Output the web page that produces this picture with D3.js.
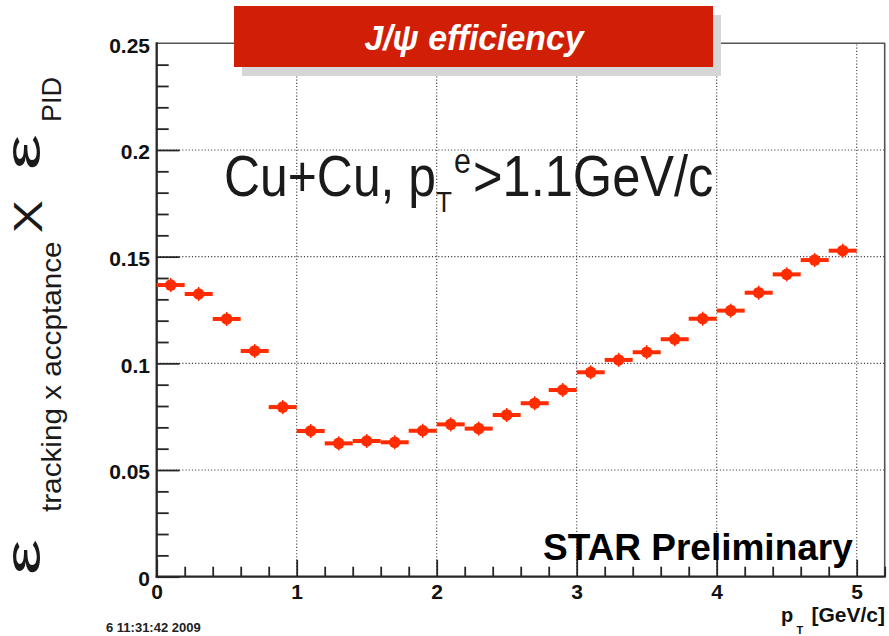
<!DOCTYPE html>
<html>
<head>
<meta charset="utf-8">
<script src="https://cdn.jsdelivr.net/npm/d3@7"></script>
<style>
  html, body { margin: 0; padding: 0; background: #fff; }
  svg { display: block; }
  text { font-family: "Liberation Sans", Arial, Helvetica, sans-serif; }
</style>
</head>
<body>
<svg id="chart" width="889" height="636"></svg>
<script>
// J/psi efficiency vs pT, Cu+Cu
const pT = [0.1, 0.3, 0.5, 0.7, 0.9, 1.1, 1.3, 1.5, 1.7, 1.9, 2.1, 2.3, 2.5,
            2.7, 2.9, 3.1, 3.3, 3.5, 3.7, 3.9, 4.1, 4.3, 4.5, 4.7, 4.9];
const eff = [0.1367, 0.1325, 0.1208, 0.1058, 0.0795, 0.0683, 0.0625, 0.0636,
             0.0630, 0.0684, 0.0714, 0.0694, 0.0758, 0.0813, 0.0875, 0.0958,
             0.1016, 0.1052, 0.1113, 0.1209, 0.1247, 0.1331, 0.1417, 0.1484, 0.1528];
const effErr = [0.0033, 0.0033, 0.0033, 0.0033, 0.0033, 0.0033, 0.0033, 0.0033,
                0.0033, 0.0033, 0.0033, 0.0033, 0.0033, 0.0033, 0.0033, 0.0033,
                0.0033, 0.0033, 0.0033, 0.0033, 0.0033, 0.0033, 0.0033, 0.0033, 0.0033];
const binHalfWidth = 0.1;
const xTickLabels = ["0", "1", "2", "3", "4", "5"];
const yTickLabels = ["0", "0.05", "0.1", "0.15", "0.2", "0.25"];
const xMajor = [0, 1, 2, 3, 4, 5];
const yMajor = [0, 0.05, 0.1, 0.15, 0.2, 0.25];
const xGrid = [1, 2, 3, 4, 5];
const yGrid = [0.05, 0.1, 0.15, 0.2];

const svg = d3.select("#chart");
const padL = 156.7, padR = 884.7, padT = 43.3, padB = 576.7;
const x = d3.scaleLinear().domain([0, 5.2]).range([padL, padR]);
const y = d3.scaleLinear().domain([0, 0.25]).range([padB, padT]);

const red = "#ff2c00";
const axisColor = "#262626";

// dotted grid
const grid = svg.append("g").attr("stroke", "#3a3a3a").attr("stroke-width", 1.1)
  .attr("stroke-dasharray", "1.1,2.1");
grid.selectAll("line.gx").data(xGrid).join("line").attr("class", "gx")
  .attr("x1", d => x(d)).attr("x2", d => x(d)).attr("y1", padB).attr("y2", padT);
grid.selectAll("line.gy").data(yGrid).join("line").attr("class", "gy")
  .attr("x1", padL).attr("x2", padR).attr("y1", d => y(d)).attr("y2", d => y(d));

// frame top and right
svg.append("line").attr("x1", padL).attr("x2", padR + 0.5).attr("y1", padT).attr("y2", padT)
  .attr("stroke", "#555").attr("stroke-width", 1.6);
svg.append("line").attr("x1", padR).attr("x2", padR).attr("y1", padT).attr("y2", padB)
  .attr("stroke", "#555").attr("stroke-width", 1.6);

// x axis: ticks pointing inward
const xMinor = d3.range(0, 5.2001, 0.2).filter(v => Math.abs(v - Math.round(v)) > 1e-6);
const xMinorAxis = d3.axisBottom(x).tickValues(xMinor).tickSize(-10).tickFormat("");
const xMajorAxis = d3.axisBottom(x).tickValues(xMajor).tickSize(-17).tickPadding(7)
  .tickFormat((d, i) => xTickLabels[i]);
const gxMinor = svg.append("g").attr("transform", `translate(0,${padB})`).call(xMinorAxis);
const gx = svg.append("g").attr("transform", `translate(0,${padB})`).call(xMajorAxis);
[gxMinor, gx].forEach(g => {
  g.select(".domain").remove();
  g.selectAll(".tick line").attr("stroke", axisColor).attr("stroke-width", 1.8);
});
gx.selectAll(".tick text").attr("fill", "#111").attr("font-size", 21)
  .attr("font-weight", "bold").style("font-family", "'Liberation Sans', Arial, sans-serif");

// y axis
const yMinor = d3.range(0, 0.2501, 0.01).filter(v => Math.abs(v / 0.05 - Math.round(v / 0.05)) > 1e-6);
const yMinorAxis = d3.axisLeft(y).tickValues(yMinor).tickSize(-12).tickFormat("");
const yMajorAxis = d3.axisLeft(y).tickValues(yMajor).tickSize(-23).tickPadding(6.7)
  .tickFormat((d, i) => yTickLabels[i]);
const gyMinor = svg.append("g").attr("transform", `translate(${padL},0)`).call(yMinorAxis);
const gy = svg.append("g").attr("transform", `translate(${padL},0)`).call(yMajorAxis);
[gyMinor, gy].forEach(g => {
  g.select(".domain").remove();
  g.selectAll(".tick line").attr("stroke", axisColor).attr("stroke-width", 1.8);
});
gy.selectAll(".tick text").attr("fill", "#111").attr("font-size", 21)
  .attr("font-weight", "bold").attr("dy", "0.42em")
  .style("font-family", "'Liberation Sans', Arial, sans-serif");
// 0.25 tick sits on the frame, no inner tick
gy.selectAll(".tick").filter(d => d === 0.25).select("line").remove();

// axis lines
svg.append("line").attr("x1", padL).attr("x2", padL).attr("y1", padT - 1).attr("y2", padB + 1)
  .attr("stroke", axisColor).attr("stroke-width", 2.3);
svg.append("line").attr("x1", padL - 1).attr("x2", padR + 1).attr("y1", padB).attr("y2", padB)
  .attr("stroke", axisColor).attr("stroke-width", 2.3);

// data: horizontal bin bars, vertical errors, markers
const pts = pT.map((p, i) => ({ p, v: eff[i], e: effErr[i] }));
const dg = svg.append("g");
dg.selectAll("line.hb").data(pts).join("line").attr("class", "hb")
  .attr("x1", d => x(d.p - binHalfWidth)).attr("x2", d => x(d.p + binHalfWidth))
  .attr("y1", d => y(d.v)).attr("y2", d => y(d.v))
  .attr("stroke", red).attr("stroke-width", 4);
dg.selectAll("line.vb").data(pts).join("line").attr("class", "vb")
  .attr("x1", d => x(d.p)).attr("x2", d => x(d.p))
  .attr("y1", d => y(d.v - d.e)).attr("y2", d => y(d.v + d.e))
  .attr("stroke", red).attr("stroke-width", 1.5);
dg.selectAll("circle").data(pts).join("circle")
  .attr("cx", d => x(d.p)).attr("cy", d => y(d.v)).attr("r", 5.8)
  .attr("fill", red);

// title banner with drop shadow
svg.append("rect").attr("x", 242).attr("y", 15).attr("width", 479).attr("height", 61)
  .attr("fill", "#d6d6d6");
svg.append("rect").attr("x", 234).attr("y", 6).attr("width", 479).attr("height", 61)
  .attr("fill", "#d11e06");
svg.append("text").attr("transform", "translate(474,50) scale(0.94,1)").attr("text-anchor", "middle")
  .attr("fill", "#fff").attr("font-size", 36).attr("font-weight", "bold")
  .attr("font-style", "italic").text("J/ψ efficiency");

// text helper with stretch along the reading direction
function stext(str, tx, ty, size, sx, opts = {}) {
  const t = svg.append("text")
    .attr("transform", `translate(${tx},${ty})` + (opts.rotate ? " rotate(-90)" : "") + ` scale(${sx},1)`)
    .attr("font-size", size).attr("fill", opts.fill || "#1a1a1a")
    .text(str);
  if (opts.bold) t.attr("font-weight", "bold");
  if (opts.anchor) t.attr("text-anchor", opts.anchor);
  return t;
}

// collision system label
stext("Cu+Cu, p", 224, 196, 58, 0.86);
stext("T", 436, 211.5, 30, 0.87);
stext("e", 454, 173, 35, 0.87);
stext(">1.1GeV/c", 473, 196, 58, 0.872);

// preliminary tag
stext("STAR Preliminary", 543, 560, 37, 1, { bold: true, fill: "#000" });

// x axis title
stext("p", 781, 622, 20, 1, { bold: true, fill: "#111" });
stext("T", 796.5, 634, 11, 1, { bold: true, fill: "#111" });
stext("[GeV/c]", 885, 622, 21, 1, { bold: true, fill: "#111", anchor: "end" });

// y axis title (reads upward)
stext("ε", 40, 575, 50, 1.6, { rotate: true });
stext("tracking x accptance", 61, 512, 28, 1.06, { rotate: true });
stext("X", 42, 233, 41, 1.2, { rotate: true });
stext("ε", 40, 170, 50, 1.6, { rotate: true });
stext("PID", 61, 122, 27, 1.0, { rotate: true });

// timestamp
stext("6 11:31:42 2009", 106, 632, 13, 1, { bold: true, fill: "#222" });
</script>
</body>
</html>
